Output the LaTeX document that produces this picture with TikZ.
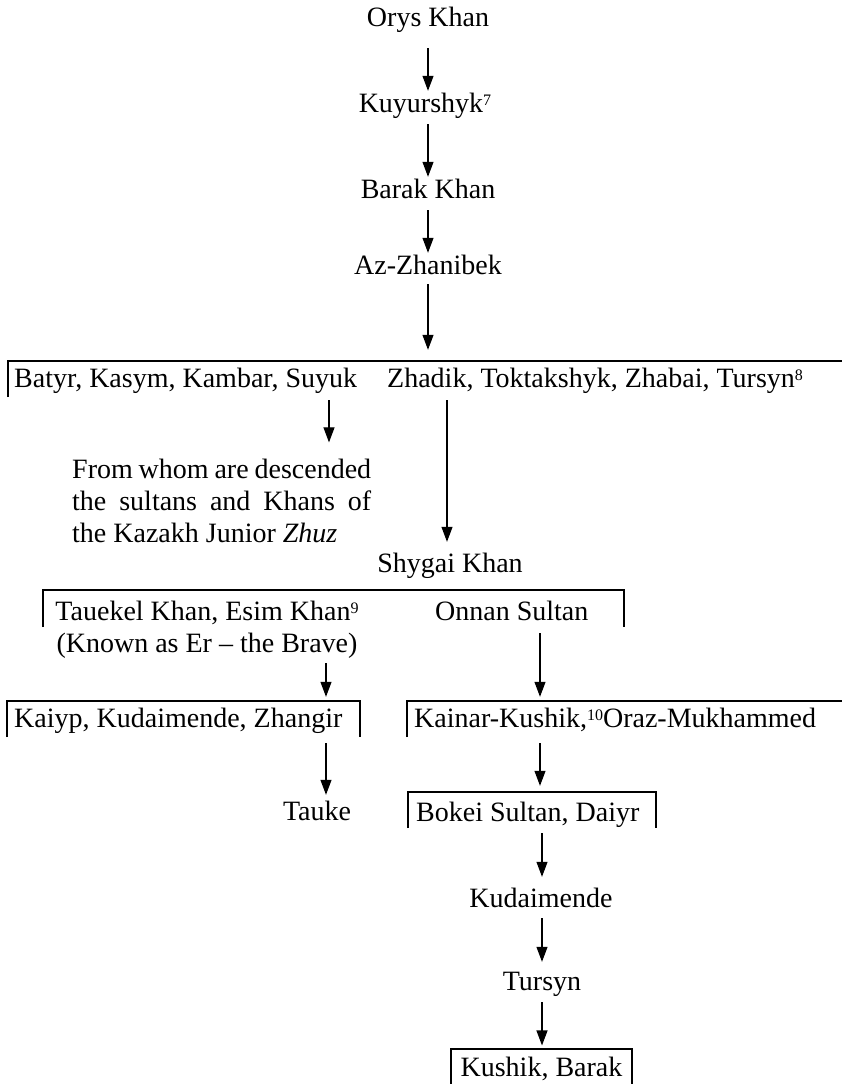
\documentclass[tikz,border=0pt]{standalone}
\usepackage{fontspec}
\setmainfont{Liberation Serif}
\usetikzlibrary{arrows.meta}
\newcommand\fsz{\fontsize{28}{32}\selectfont}
\newcommand\sups[1]{\raisebox{7pt}{\fontsize{16}{16}\selectfont #1}}
\begin{document}
\begin{tikzpicture}[x=1pt,y=-1pt,
  lbl/.style={inner sep=0pt,font=\fsz,text height=19pt,text depth=6pt},
  multi/.style={inner sep=0pt,font=\fsz},
  arr/.style={line width=1.1pt,-{Triangle[length=15pt,width=11pt]}},
  brk/.style={line width=1.1pt}]
\useasboundingbox (0,0) rectangle (842,1084);
% column coordinates for arrows
\coordinate (cA) at (329,0);
\coordinate (cB) at (447,0);
\coordinate (cC) at (326,0);
\coordinate (cD) at (540,0);
\coordinate (cE) at (542,0);
% nodes
\node[lbl,anchor=base] (orys) at (428,27) {Orys Khan};
\node[lbl,anchor=base] (kuy) at (425,112) {Kuyurshyk\sups{7}};
\node[lbl,anchor=base] (barak) at (428,198) {Barak Khan};
\node[lbl,anchor=base] (az) at (428,274) {Az-Zhanibek};
\node[lbl,anchor=base west] (batyr) at (14,387) {Batyr, Kasym, Kambar, Suyuk};
\node[lbl,anchor=base west] (zhadik) at (387,387) {Zhadik, Toktakshyk, Zhabai, Tursyn\sups{8}};
\node[multi,anchor=base west] (from) at (72,478) {\vtop{\baselineskip=32pt
  \hbox{\makebox[299pt][s]{From whom are descended}}
  \hbox{\makebox[299pt][s]{the sultans and Khans of}}
  \hbox{the Kazakh Junior \textit{Zhuz}}}};
\node[lbl,anchor=base] (shygai) at (450,572) {Shygai Khan};
\node[multi,anchor=base] (tau) at (207,620) {\vtop{\baselineskip=32pt
  \hbox to 320pt{\hss Tauekel Khan, Esim Khan\sups{9}\hss}
  \hbox to 320pt{\hss (Known as Er – the Brave)\hss}}};
\node[lbl,anchor=base west] (onnan) at (435,620) {Onnan Sultan};
\node[lbl,anchor=base west] (kaiyp) at (14,727) {Kaiyp, Kudaimende, Zhangir};
\node[lbl,anchor=base west] (kainar) at (414,727) {Kainar-Kushik,\sups{10}Oraz-Mukhammed};
\node[lbl,anchor=base] (tauke) at (317,820) {Tauke};
\node[lbl,anchor=base west] (bokei) at (416,821) {Bokei Sultan, Daiyr};
\node[lbl,anchor=base] (kud) at (541,907) {Kudaimende};
\node[lbl,anchor=base] (tursyn) at (542,990) {Tursyn};
\node[lbl,anchor=base,draw,line width=1.1pt,inner ysep=8pt,inner xsep=0pt,minimum width=181pt] (kushik) at (541.5,1076) {Kushik, Barak};
% brackets
\draw[brk] (8,397) |- (842,361);
\draw[brk] (43,627) |- (624,590) -- (624,627);
\draw[brk] (7,737) |- (360,701) -- (360,737);
\draw[brk] (407,737) |- (842,701);
\draw[brk] (408,828) |- (656,792) -- (656,828);
% arrows
\draw[arr] ([yshift=-15pt]orys.south) -- ([yshift=2pt]kuy.north -| orys.south);
\draw[arr] ([yshift=-6pt]kuy.south -| orys.south) -- ([yshift=2pt]barak.north);
\draw[arr] ([yshift=-6pt]barak.south) -- ([yshift=2pt]az.north);
\draw[arr] ([yshift=-4pt]az.south) -- ([yshift=18pt]zhadik.north -| az.south);
\draw[arr] ([yshift=-7pt]batyr.south -| cA) -- ([yshift=16pt]from.north -| cA);
\draw[arr] ([yshift=-7pt]zhadik.south -| cB) -- ([yshift=11pt]shygai.north -| cB);
\draw[arr] ([yshift=-5pt]tau.south -| cC) -- ([yshift=11pt]kaiyp.north -| cC);
\draw[arr] ([yshift=-7pt]onnan.south -| cD) -- ([yshift=11pt]kainar.north -| cD);
\draw[arr] ([yshift=-10pt]kaiyp.south -| cC) -- ([yshift=6pt]tauke.north -| cC);
\draw[arr] ([yshift=-10pt]kainar.south -| cD) -- ([yshift=16pt]bokei.north -| cD);
\draw[arr] ([yshift=-6pt]bokei.south -| cE) -- ([yshift=11pt]kud.north -| cE);
\draw[arr] ([yshift=-5pt]kud.south -| cE) -- ([yshift=9pt]tursyn.north -| cE);
\draw[arr] ([yshift=-6pt]tursyn.south -| cE) -- ([yshift=3pt]kushik.north -| cE);
\end{tikzpicture}
\end{document}
